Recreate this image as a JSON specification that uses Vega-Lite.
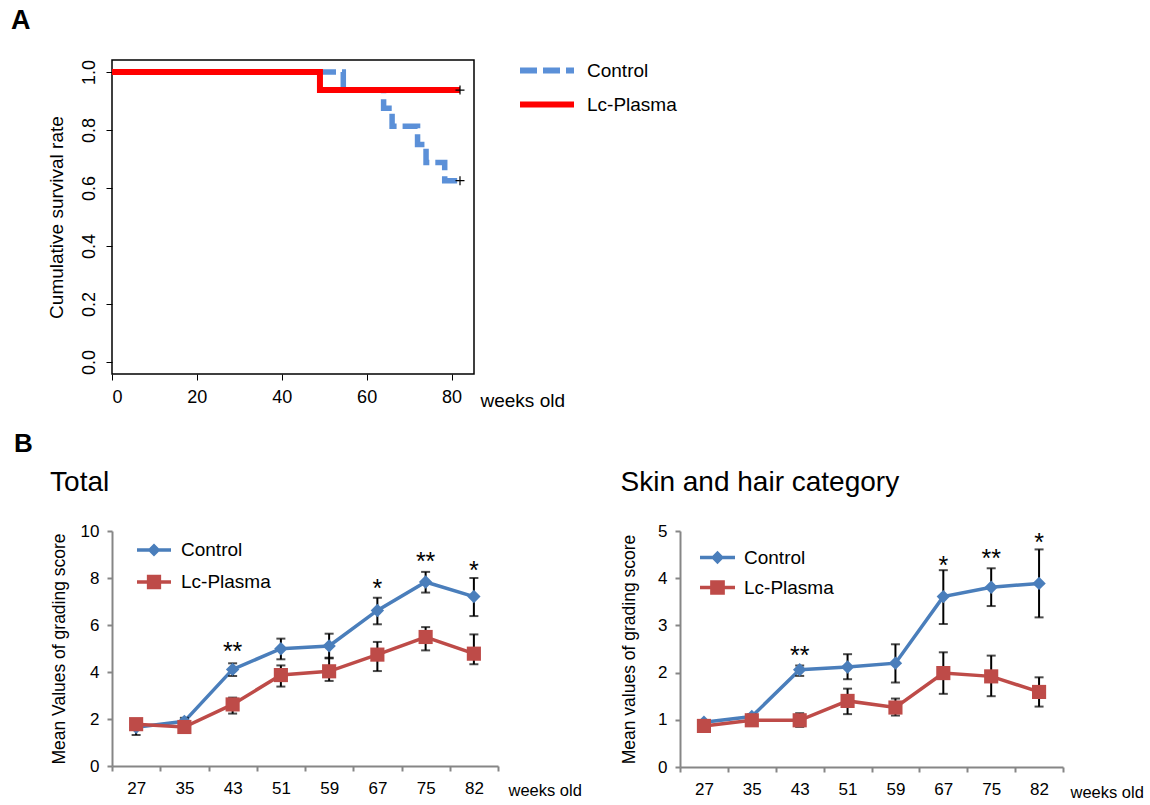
{
  "$schema": "https://vega.github.io/schema/vega-lite/v6.json",
  "padding": {"left": 10, "top": 6, "right": 0, "bottom": 0},
  "autosize": {"type": "pad"},
  "spacing": 20,
  "config": {
    "font": "Liberation Sans",
    "view": {"stroke": null},
    "axis": {"labelColor": "black", "titleColor": "black", "grid": false, "titleFontWeight": "normal"},
    "title": {"color": "black", "fontWeight": "normal"},
    "legend": {"labelColor": "black"}
  },
  "resolve": {"scale": {"color": "independent", "strokeDash": "independent", "shape": "independent"}, "legend": {"color": "independent", "strokeDash": "independent", "shape": "independent"}},
  "datasets": {
    "survC": [
      {"group": "Control", "week": 0, "surv": 1},
      {"group": "Control", "week": 54.5, "surv": 0.9375},
      {"group": "Control", "week": 64, "surv": 0.875},
      {"group": "Control", "week": 66, "surv": 0.8125},
      {"group": "Control", "week": 72, "surv": 0.75},
      {"group": "Control", "week": 74, "surv": 0.6875},
      {"group": "Control", "week": 78.4, "surv": 0.625},
      {"group": "Control", "week": 82, "surv": 0.625}
    ],
    "survL": [
      {"group": "Lc-Plasma", "week": 0, "surv": 1},
      {"group": "Lc-Plasma", "week": 49, "surv": 0.9375},
      {"group": "Lc-Plasma", "week": 82, "surv": 0.9375}
    ],
    "censor": [
      {"week": 82, "surv": 0.9375},
      {"week": 82, "surv": 0.625}
    ],
    "total": [
      {"week": "27", "group": "Control", "mean": 1.65, "lo": 1.32, "hi": 2.0},
      {"week": "35", "group": "Control", "mean": 1.9, "lo": 1.72, "hi": 2.05},
      {"week": "43", "group": "Control", "mean": 4.11, "lo": 3.83, "hi": 4.37},
      {"week": "51", "group": "Control", "mean": 4.99, "lo": 4.54, "hi": 5.42},
      {"week": "59", "group": "Control", "mean": 5.11, "lo": 4.58, "hi": 5.63},
      {"week": "67", "group": "Control", "mean": 6.62, "lo": 6.03, "hi": 7.16},
      {"week": "75", "group": "Control", "mean": 7.83, "lo": 7.38, "hi": 8.26},
      {"week": "82", "group": "Control", "mean": 7.21, "lo": 6.38, "hi": 8.0},
      {"week": "27", "group": "Lc-Plasma", "mean": 1.78, "lo": 1.58, "hi": 1.98},
      {"week": "35", "group": "Lc-Plasma", "mean": 1.66, "lo": 1.55, "hi": 1.8},
      {"week": "43", "group": "Lc-Plasma", "mean": 2.62, "lo": 2.23, "hi": 2.91},
      {"week": "51", "group": "Lc-Plasma", "mean": 3.87, "lo": 3.38, "hi": 4.28},
      {"week": "59", "group": "Lc-Plasma", "mean": 4.03, "lo": 3.62, "hi": 4.61},
      {"week": "67", "group": "Lc-Plasma", "mean": 4.74, "lo": 4.04, "hi": 5.28},
      {"week": "75", "group": "Lc-Plasma", "mean": 5.49, "lo": 4.92, "hi": 5.91},
      {"week": "82", "group": "Lc-Plasma", "mean": 4.78, "lo": 4.33, "hi": 5.6}
    ],
    "skin": [
      {"week": "27", "group": "Control", "mean": 0.95, "lo": 0.91, "hi": 0.99},
      {"week": "35", "group": "Control", "mean": 1.07, "lo": 1.02, "hi": 1.12},
      {"week": "43", "group": "Control", "mean": 2.06, "lo": 1.93, "hi": 2.15},
      {"week": "51", "group": "Control", "mean": 2.12, "lo": 1.86, "hi": 2.39},
      {"week": "59", "group": "Control", "mean": 2.2, "lo": 1.79, "hi": 2.6},
      {"week": "67", "group": "Control", "mean": 3.61, "lo": 3.03, "hi": 4.17},
      {"week": "75", "group": "Control", "mean": 3.81, "lo": 3.41, "hi": 4.21},
      {"week": "82", "group": "Control", "mean": 3.89, "lo": 3.17, "hi": 4.61},
      {"week": "27", "group": "Lc-Plasma", "mean": 0.87, "lo": 0.83, "hi": 0.92},
      {"week": "35", "group": "Lc-Plasma", "mean": 0.99, "lo": 0.95, "hi": 1.03},
      {"week": "43", "group": "Lc-Plasma", "mean": 0.99, "lo": 0.85, "hi": 1.14},
      {"week": "51", "group": "Lc-Plasma", "mean": 1.4, "lo": 1.12, "hi": 1.66},
      {"week": "59", "group": "Lc-Plasma", "mean": 1.26, "lo": 1.09, "hi": 1.45},
      {"week": "67", "group": "Lc-Plasma", "mean": 1.99, "lo": 1.55, "hi": 2.43},
      {"week": "75", "group": "Lc-Plasma", "mean": 1.92, "lo": 1.5, "hi": 2.36},
      {"week": "82", "group": "Lc-Plasma", "mean": 1.59, "lo": 1.28, "hi": 1.9}
    ],
    "starsTotal": [
      {"week": "43", "pos": 5.12, "label": "**"},
      {"week": "67", "pos": 7.79, "label": "*"},
      {"week": "75", "pos": 8.95, "label": "**"},
      {"week": "82", "pos": 8.57, "label": "*"}
    ],
    "starsSkin": [
      {"week": "43", "pos": 2.48, "label": "**"},
      {"week": "67", "pos": 4.39, "label": "*"},
      {"week": "75", "pos": 4.53, "label": "**"},
      {"week": "82", "pos": 4.88, "label": "*"}
    ]
  },
  "vconcat": [
    {
      "width": 362,
      "height": 314,
      "view": {"stroke": "black", "strokeWidth": 1.5},
      "title": {"text": "A", "anchor": "start", "fontSize": 27, "fontWeight": "bold", "dx": -36, "offset": 19},
      "encoding": {
        "x": {"field": "week", "type": "quantitative",
          "scale": {"domain": [0, 85.3], "nice": false, "zero": false},
          "axis": {"values": [0, 20, 40, 60, 80], "domain": false, "tickColor": "black", "tickSize": 6, "tickWidth": 1, "labelFontSize": 18, "labelPadding": 8,
            "title": "weeks old", "titleFontSize": 19, "titleX": 368, "titleY": 26, "titleAlign": "left", "titleBaseline": "middle"}},
        "y": {"field": "surv", "type": "quantitative",
          "scale": {"domain": [-0.041, 1.041], "nice": false, "zero": false},
          "axis": {"values": [0, 0.2, 0.4, 0.6, 0.8, 1], "format": ".1f", "domain": false, "tickColor": "black", "tickSize": 6, "tickWidth": 1,
            "labelAngle": 270, "labelAlign": "center", "labelBaseline": "bottom", "labelFontSize": 18, "labelPadding": 8,
            "title": "Cumulative survival rate", "titleFontSize": 19, "titlePadding": 14}}
      },
      "layer": [
        {
          "data": {"name": "survC"},
          "mark": {"type": "line", "interpolate": "step-after", "strokeWidth": 5.5},
          "encoding": {
            "color": {"field": "group", "type": "nominal", "scale": {"domain": ["Control", "Lc-Plasma"], "range": ["#5b90d8", "#ff0000"]},
              "legend": {"title": null, "orient": "none", "legendX": 418.5, "legendY": -6, "symbolType": "M-2,0L2,0", "symbolSize": 729, "symbolStrokeWidth": 6, "labelFontSize": 19, "labelOffset": 23.5, "rowPadding": 5}},
            "strokeDash": {"field": "group", "type": "nominal", "scale": {"domain": ["Control", "Lc-Plasma"], "range": [[17, 6], [1, 0]]},
              "legend": {"title": null, "orient": "none", "legendX": 418.5, "legendY": -6, "symbolType": "M-2,0L2,0", "symbolSize": 729, "symbolStrokeWidth": 6, "labelFontSize": 19, "labelOffset": 23.5, "rowPadding": 5}}
          }
        },
        {
          "data": {"name": "survL"},
          "mark": {"type": "line", "interpolate": "step-after", "strokeWidth": 6},
          "encoding": {
            "color": {"field": "group", "type": "nominal"},
            "strokeDash": {"field": "group", "type": "nominal"}
          }
        },
        {
          "data": {"name": "censor"},
          "mark": {"type": "point", "shape": "M-1,0H1M0,-1V1", "filled": false, "color": "black", "strokeWidth": 1.2, "size": 81, "opacity": 1}
        }
      ]
    },
    {
      "title": {"text": "B", "anchor": "start", "fontSize": 26, "fontWeight": "bold", "dx": -36, "offset": 12},
      "spacing": 38,
      "resolve": {"scale": {"color": "independent", "shape": "independent"}, "legend": {"color": "independent", "shape": "independent"}},
      "hconcat": [
        {
          "width": 386,
          "height": 235,
          "data": {"name": "total"},
          "title": {"text": "Total", "anchor": "start", "fontSize": 28, "offset": 25},
          "encoding": {
            "x": {"field": "week", "type": "ordinal", "scale": {"type": "band", "paddingInner": 0, "paddingOuter": 0},
              "axis": {"labelAngle": 0, "tickBand": "extent", "domainColor": "#868686", "domainWidth": 2, "tickColor": "#868686", "tickWidth": 2, "tickSize": 5, "labelFontSize": 17, "labelPadding": 9,
                "title": "weeks old", "titleFontSize": 16.5, "titleX": 396, "titleY": 24, "titleAlign": "left", "titleBaseline": "middle"}},
            "y": {"field": "mean", "type": "quantitative", "scale": {"domain": [0, 10], "nice": false},
              "axis": {"values": [0, 2, 4, 6, 8, 10], "domainColor": "#868686", "domainWidth": 2, "tickColor": "#868686", "tickWidth": 2, "tickSize": 5, "labelFontSize": 17, "labelPadding": 8,
                "title": "Mean Values of grading score", "titleFontSize": 17.5, "titlePadding": 12}}
          },
          "layer": [
            {
              "mark": {"type": "point", "filled": true, "opacity": 0, "size": 1},
              "encoding": {
                "color": {"field": "group", "type": "nominal", "scale": {"domain": ["Control", "Lc-Plasma"], "range": ["#4a7ebb", "#be4b48"]},
                  "legend": {"title": null, "orient": "none", "legendX": 25, "legendY": 2, "symbolSize": 1156, "symbolStrokeWidth": 0, "symbolOpacity": 1, "labelFontSize": 19, "labelOffset": 10, "rowPadding": 5}},
                "shape": {"field": "group", "type": "nominal", "scale": {"domain": ["Control", "Lc-Plasma"], "range": ["M-1,-0.1L-0.28,-0.1L0,-0.38L0.28,-0.1L1,-0.1L1,0.1L0.28,0.1L0,0.38L-0.28,0.1L-1,0.1Z", "M-1,-0.1L-0.42,-0.1L-0.42,-0.42L0.42,-0.42L0.42,-0.1L1,-0.1L1,0.1L0.42,0.1L0.42,0.42L-0.42,0.42L-0.42,0.1L-1,0.1Z"]},
                  "legend": {"title": null, "orient": "none", "legendX": 25, "legendY": 2, "symbolSize": 1156, "symbolStrokeWidth": 0, "symbolOpacity": 1, "labelFontSize": 19, "labelOffset": 10, "rowPadding": 5}}
              }
            },
            {
              "mark": {"type": "line", "strokeWidth": 3.5},
              "encoding": {"color": {"field": "group", "type": "nominal"}}
            },
            {
              "mark": {"type": "rule", "color": "black", "strokeWidth": 2},
              "encoding": {"y": {"field": "lo", "type": "quantitative"}, "y2": {"field": "hi"}}
            },
            {
              "mark": {"type": "tick", "color": "black", "thickness": 2, "size": 9},
              "encoding": {"y": {"field": "hi", "type": "quantitative"}}
            },
            {
              "mark": {"type": "tick", "color": "black", "thickness": 2, "size": 9},
              "encoding": {"y": {"field": "lo", "type": "quantitative"}}
            },
            {
              "transform": [{"filter": "datum.group === 'Control'"}],
              "mark": {"type": "point", "shape": "diamond", "filled": true, "opacity": 1, "size": 180},
              "encoding": {"color": {"field": "group", "type": "nominal"}}
            },
            {
              "transform": [{"filter": "datum.group === 'Lc-Plasma'"}],
              "mark": {"type": "point", "shape": "square", "filled": true, "opacity": 1, "size": 200},
              "encoding": {"color": {"field": "group", "type": "nominal"}}
            },
            {
              "data": {"name": "starsTotal"},
              "mark": {"type": "text", "fontSize": 25, "baseline": "alphabetic", "dy": 14, "color": "black"},
              "encoding": {"y": {"field": "pos", "type": "quantitative"}, "text": {"field": "label"}}
            }
          ]
        },
        {
          "width": 383,
          "height": 236,
          "data": {"name": "skin"},
          "title": {"text": "Skin and hair category", "anchor": "start", "fontSize": 28, "offset": 28, "dy": 3},
          "encoding": {
            "x": {"field": "week", "type": "ordinal", "scale": {"type": "band", "paddingInner": 0, "paddingOuter": 0},
              "axis": {"labelAngle": 0, "tickBand": "extent", "domainColor": "#868686", "domainWidth": 2, "tickColor": "#868686", "tickWidth": 2, "tickSize": 5, "labelFontSize": 17, "labelPadding": 9,
                "title": "weeks old", "titleFontSize": 16.5, "titleX": 390, "titleY": 25, "titleAlign": "left", "titleBaseline": "middle"}},
            "y": {"field": "mean", "type": "quantitative", "scale": {"domain": [0, 5], "nice": false},
              "axis": {"values": [0, 1, 2, 3, 4, 5], "domainColor": "#868686", "domainWidth": 2, "tickColor": "#868686", "tickWidth": 2, "tickSize": 5, "labelFontSize": 17, "labelPadding": 8,
                "title": "Mean values of grading score", "titleFontSize": 17.5, "titlePadding": 19}}
          },
          "layer": [
            {
              "mark": {"type": "point", "filled": true, "opacity": 0, "size": 1},
              "encoding": {
                "color": {"field": "group", "type": "nominal", "scale": {"domain": ["Control", "Lc-Plasma"], "range": ["#4a7ebb", "#be4b48"]},
                  "legend": {"title": null, "orient": "none", "legendX": 20, "legendY": 9, "symbolSize": 1225, "symbolStrokeWidth": 0, "symbolOpacity": 1, "labelFontSize": 19, "labelOffset": 9, "rowPadding": 2}},
                "shape": {"field": "group", "type": "nominal", "scale": {"domain": ["Control", "Lc-Plasma"], "range": ["M-1,-0.1L-0.28,-0.1L0,-0.38L0.28,-0.1L1,-0.1L1,0.1L0.28,0.1L0,0.38L-0.28,0.1L-1,0.1Z", "M-1,-0.1L-0.42,-0.1L-0.42,-0.42L0.42,-0.42L0.42,-0.1L1,-0.1L1,0.1L0.42,0.1L0.42,0.42L-0.42,0.42L-0.42,0.1L-1,0.1Z"]},
                  "legend": {"title": null, "orient": "none", "legendX": 20, "legendY": 9, "symbolSize": 1225, "symbolStrokeWidth": 0, "symbolOpacity": 1, "labelFontSize": 19, "labelOffset": 9, "rowPadding": 2}}
              }
            },
            {
              "mark": {"type": "line", "strokeWidth": 3.5},
              "encoding": {"color": {"field": "group", "type": "nominal"}}
            },
            {
              "mark": {"type": "rule", "color": "black", "strokeWidth": 2},
              "encoding": {"y": {"field": "lo", "type": "quantitative"}, "y2": {"field": "hi"}}
            },
            {
              "mark": {"type": "tick", "color": "black", "thickness": 2, "size": 9},
              "encoding": {"y": {"field": "hi", "type": "quantitative"}}
            },
            {
              "mark": {"type": "tick", "color": "black", "thickness": 2, "size": 9},
              "encoding": {"y": {"field": "lo", "type": "quantitative"}}
            },
            {
              "transform": [{"filter": "datum.group === 'Control'"}],
              "mark": {"type": "point", "shape": "diamond", "filled": true, "opacity": 1, "size": 180},
              "encoding": {"color": {"field": "group", "type": "nominal"}}
            },
            {
              "transform": [{"filter": "datum.group === 'Lc-Plasma'"}],
              "mark": {"type": "point", "shape": "square", "filled": true, "opacity": 1, "size": 200},
              "encoding": {"color": {"field": "group", "type": "nominal"}}
            },
            {
              "data": {"name": "starsSkin"},
              "mark": {"type": "text", "fontSize": 25, "baseline": "alphabetic", "dy": 14, "color": "black"},
              "encoding": {"y": {"field": "pos", "type": "quantitative"}, "text": {"field": "label"}}
            }
          ]
        }
      ]
    }
  ]
}
